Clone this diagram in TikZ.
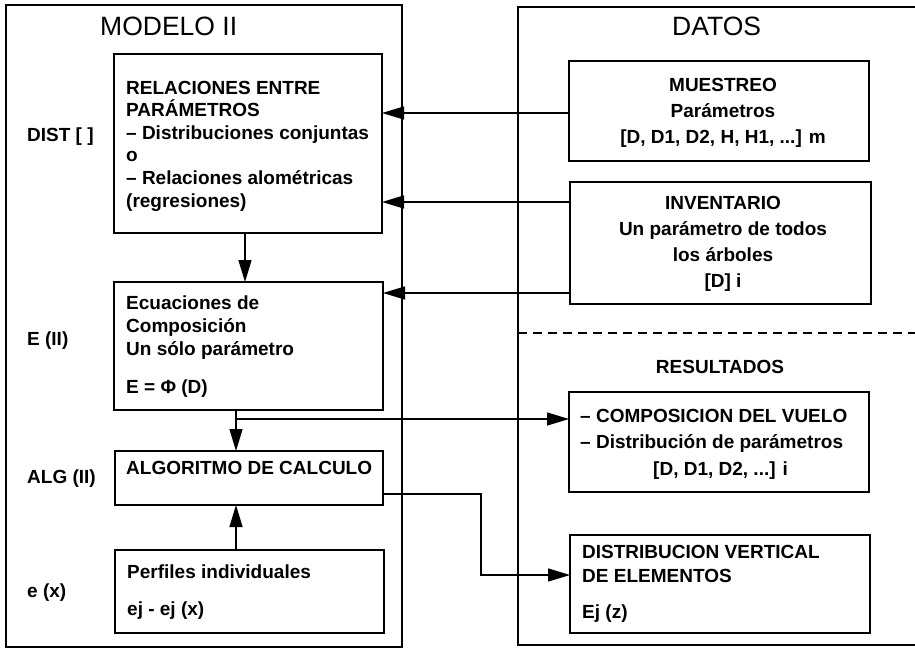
\documentclass[tikz,border=0pt]{standalone}
\usepackage{fontspec}
\setmainfont{Liberation Sans}
\usetikzlibrary{arrows.meta,calc}
\begin{document}
\begin{tikzpicture}[x=1pt,y=-1pt,
  frame/.style={draw, line width=1.6pt, inner sep=0pt, outer sep=0pt, anchor=north west},
  box/.style={draw, line width=1.6pt, inner sep=0pt, outer sep=0pt, anchor=north west},
  txt/.style={inner sep=0pt, anchor=base west, align=left, font=\bfseries\fontsize{19}{22.6}\selectfont},
  txtc/.style={inner sep=0pt, anchor=base, align=center, font=\bfseries\fontsize{19}{26}\selectfont},
  title/.style={inner sep=0pt, anchor=base west, font=\fontsize{26.5}{30}\selectfont},
  arr/.style={line width=1.4pt, -{Triangle[length=22pt,width=13pt]}},
  ln/.style={line width=1.4pt}
]
\useasboundingbox (0,0) rectangle (915,648);
% frames
\node[frame, minimum width=396pt, minimum height=642pt] (modelo) at (6,5) {};
\node[frame, minimum width=410pt, minimum height=638pt] (datos) at (518,7) {};
\node[title] (tmodelo) at (100,35) {MODELO II};
\node[title] (tdatos) at (672,35) {DATOS};
% left boxes
\node[box, minimum width=268pt, minimum height=179pt] (rel) at (114,54) {};
\node[box, minimum width=269pt, minimum height=128pt] (eq) at (114,282) {};
\node[box, minimum width=268pt, minimum height=54pt] (alg) at (115,451) {};
\node[box, minimum width=269pt, minimum height=83pt] (perf) at (115,550) {};
% (multi-line text nodes are anchored at the baseline of their last line)
\node[txt] (reltxt) at (126,207) {RELACIONES ENTRE\\PARÁMETROS\\– Distribuciones conjuntas\\o\\– Relaciones alométricas\\(regresiones)};
\node[txt] (eqtxt) at (126,393) {Ecuaciones de\\Composición\\Un sólo parámetro\\[15.4pt]E = Φ (D)};
\node[txt] (algtxt) at (126,474) {ALGORITMO DE CALCULO};
\node[txt] (perftxt) at (127,615) {Perfiles individuales\\[14.4pt]ej - ej (x)};
% left labels
\node[txt] (ldist) at (27,141) {DIST [ ]};
\node[txt] (leq) at (27,345) {E (II)};
\node[txt] (lalg) at (27,483) {ALG (II)};
\node[txt] (lperf) at (27,597) {e (x)};
% right boxes
\node[box, minimum width=300pt, minimum height=100pt] (mue) at (569,61) {};
\node[box, minimum width=301pt, minimum height=122pt] (inv) at (570,182) {};
\node[box, minimum width=300pt, minimum height=100pt] (comp) at (569,392) {};
\node[box, minimum width=300pt, minimum height=98pt] (distv) at (570,535) {};
\node[txtc] (muetxt) at (723,143) {MUESTREO\\Parámetros\\{}[D, D1, D2, H, H1, ...] m};
\node[txtc] (invtxt) at (723,287) {INVENTARIO\\Un parámetro de todos\\los árboles\\{}[D] i};
\node[txtc] (res) at (720,373) {RESULTADOS};
\node[txt, font=\bfseries\fontsize{19}{26.5}\selectfont] (comptxt) at (580,475) {– COMPOSICION DEL VUELO\\– Distribución de parámetros\\\hspace*{73pt}[D, D1, D2, ...] i};
\node[txt, font=\bfseries\fontsize{19}{24}\selectfont] (distvtxt) at (582,618) {DISTRIBUCION VERTICAL\\DE ELEMENTOS\\[12pt]Ej (z)};
% dashed separator
\draw[line width=1.2pt, dash pattern=on 9pt off 6pt] ($(datos.north west)+(0,326)$) -- ++(400,0);
% connectors
\coordinate (m1) at ($(mue.north west)+(0,52)$);
\draw[arr] (m1) -- (m1 -| rel.east);
\coordinate (i1) at ($(inv.north west)+(0,20)$);
\draw[arr] (i1) -- (i1 -| rel.east);
\coordinate (i2) at ($(inv.north west)+(0,111)$);
\draw[arr] (i2) -- (i2 -| eq.east);
\draw[arr] ($(rel.south west)+(131,0)$) -- ($(eq.north west)+(131,0)$);
\draw[arr] ($(eq.south west)+(122,0)$) -- ($(alg.north west)+(121,0)$);
\coordinate (br) at ($(eq.south west)+(122,9)$);
\draw[arr] (br) -- (br -| comp.west);
\draw[arr] ($(perf.north west)+(121,0)$) -- ($(alg.south west)+(121,0)$);
\draw[arr] ($(alg.north east)+(0,43)$) -- ++(98,0) |- ($(distv.north west)+(0,40)$);
\end{tikzpicture}
\end{document}
